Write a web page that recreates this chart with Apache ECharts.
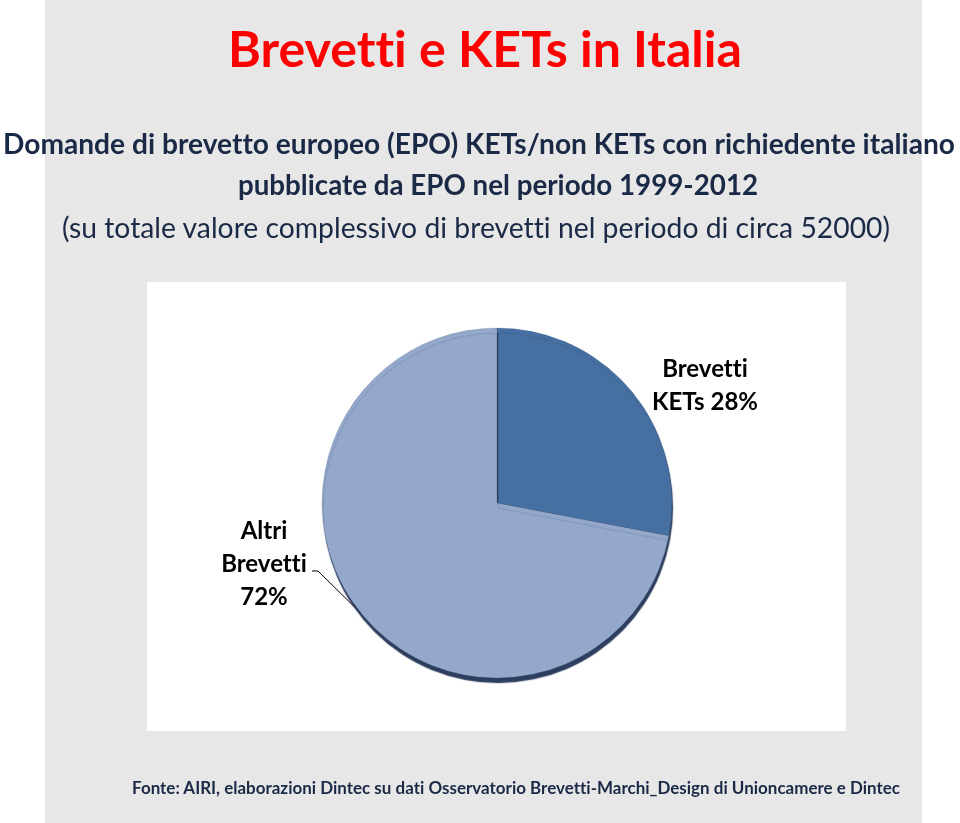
<!DOCTYPE html>
<html>
<head>
<meta charset="utf-8">
<script src="https://cdn.jsdelivr.net/npm/echarts@6/dist/echarts.min.js"></script>
<style>html,body{margin:0;padding:0;background:#fff;}#c{width:960px;height:823px;}</style>
</head>
<body>
<div id="c"></div>
<script>
const mainTitle = 'Brevetti e KETs in Italia';
const subtitleLines = [
  'Domande di brevetto europeo (EPO) KETs/non KETs con richiedente italiano',
  'pubblicate da EPO nel periodo 1999-2012',
  '(su totale valore complessivo di brevetti nel periodo di circa 52000)'
];
const sourceNote = 'Fonte: AIRI, elaborazioni Dintec su dati Osservatorio Brevetti-Marchi_Design di Unioncamere e Dintec';
const categories = ['Brevetti KETs', 'Altri Brevetti'];
const shares = [28, 72];

// Disable typographic ligatures (e.g. "tt") so the text looks like the reference.
(function () {
  const P = CanvasRenderingContext2D.prototype;
  ['fillText', 'strokeText', 'measureText'].forEach(function (fn) {
    const orig = P[fn];
    P[fn] = function () {
      if ('textRendering' in this) { this.textRendering = 'optimizeLegibility'; }
      if ('letterSpacing' in this) { this.letterSpacing = '0.01px'; }
      return orig.apply(this, arguments);
    };
  });
})();

const FAMILY = 'Lato, "Open Sans", sans-serif';
const cv = document.createElement('canvas').getContext('2d');
function fitSize(text, weight, targetWidth) {
  cv.font = weight + ' 100px ' + FAMILY;
  return 100 * targetWidth / cv.measureText(text).width;
}
function textEl(text, weight, width, cx, cy, color) {
  const size = fitSize(text, weight, width);
  return {
    type: 'text', x: cx, y: cy, silent: true,
    style: { text: text, font: weight + ' ' + size.toFixed(2) + 'px ' + FAMILY, fill: color, align: 'center', verticalAlign: 'middle' }
  };
}

const chart = echarts.init(document.getElementById('c'), null, { renderer: 'canvas' });
const navy = '#1a2945';
const option = {
  animation: false,
  backgroundColor: '#ffffff',
  graphic: [
    { type: 'rect', silent: true, z: -10, shape: { x: 45, y: 0, width: 877, height: 823 }, style: { fill: '#e7e7e7' } },
    { type: 'rect', silent: true, z: -9, shape: { x: 147, y: 282, width: 699, height: 449 }, style: { fill: '#ffffff' } },
    textEl(mainTitle, 'bold', 514, 485, 51, '#ff0000'),
    textEl(subtitleLines[0], 'bold', 952, 479, 145, navy),
    textEl(subtitleLines[1], 'bold', 520, 498, 186, navy),
    textEl(subtitleLines[2], 'normal', 828, 476, 229, navy),
    textEl(sourceNote, 'bold', 768, 516, 789, navy)
  ],
  series: [{
    type: 'pie',
    center: [497, 503],
    radius: 175,
    startAngle: 90,
    clockwise: true,
    silent: true,
    itemStyle: {
      borderColor: 'rgba(50,70,100,0.35)',
      borderWidth: 0.5,
      shadowColor: 'rgba(35,52,85,0.95)',
      shadowOffsetY: 5,
      shadowOffsetX: 1,
      shadowBlur: 1
    },
    label: {
      show: true,
      position: 'outside',
      color: '#000000',
      fontFamily: FAMILY,
      fontWeight: 'bold',
      fontSize: 24,
      lineHeight: 33,
      align: 'center',
      formatter: function (p) {
        return p.dataIndex === 0 ? 'Brevetti\nKETs ' + p.value + '%' : 'Altri\nBrevetti\n' + p.value + '%';
      }
    },
    labelLine: { show: true, length: 20, length2: 6, lineStyle: { color: '#000000', width: 1 } },
    labelLayout: function (p) {
      if (p.dataIndex === 0) {
        return { x: 705, y: 386, align: 'center', verticalAlign: 'middle' };
      }
      const start = (p.labelLinePoints && p.labelLinePoints[0]) || [362, 615];
      return {
        x: 264, y: 564, align: 'center', verticalAlign: 'middle',
        labelLinePoints: [start, [318, 571], [312, 571]]
      };
    },
    data: [
      { name: categories[0], value: shares[0], itemStyle: { color: '#4670a2' }, labelLine: { show: false } },
      { name: categories[1], value: shares[1], itemStyle: { color: '#93a8ca' } }
    ]
  }]
};
chart.setOption(option);
</script>
</body>
</html>
